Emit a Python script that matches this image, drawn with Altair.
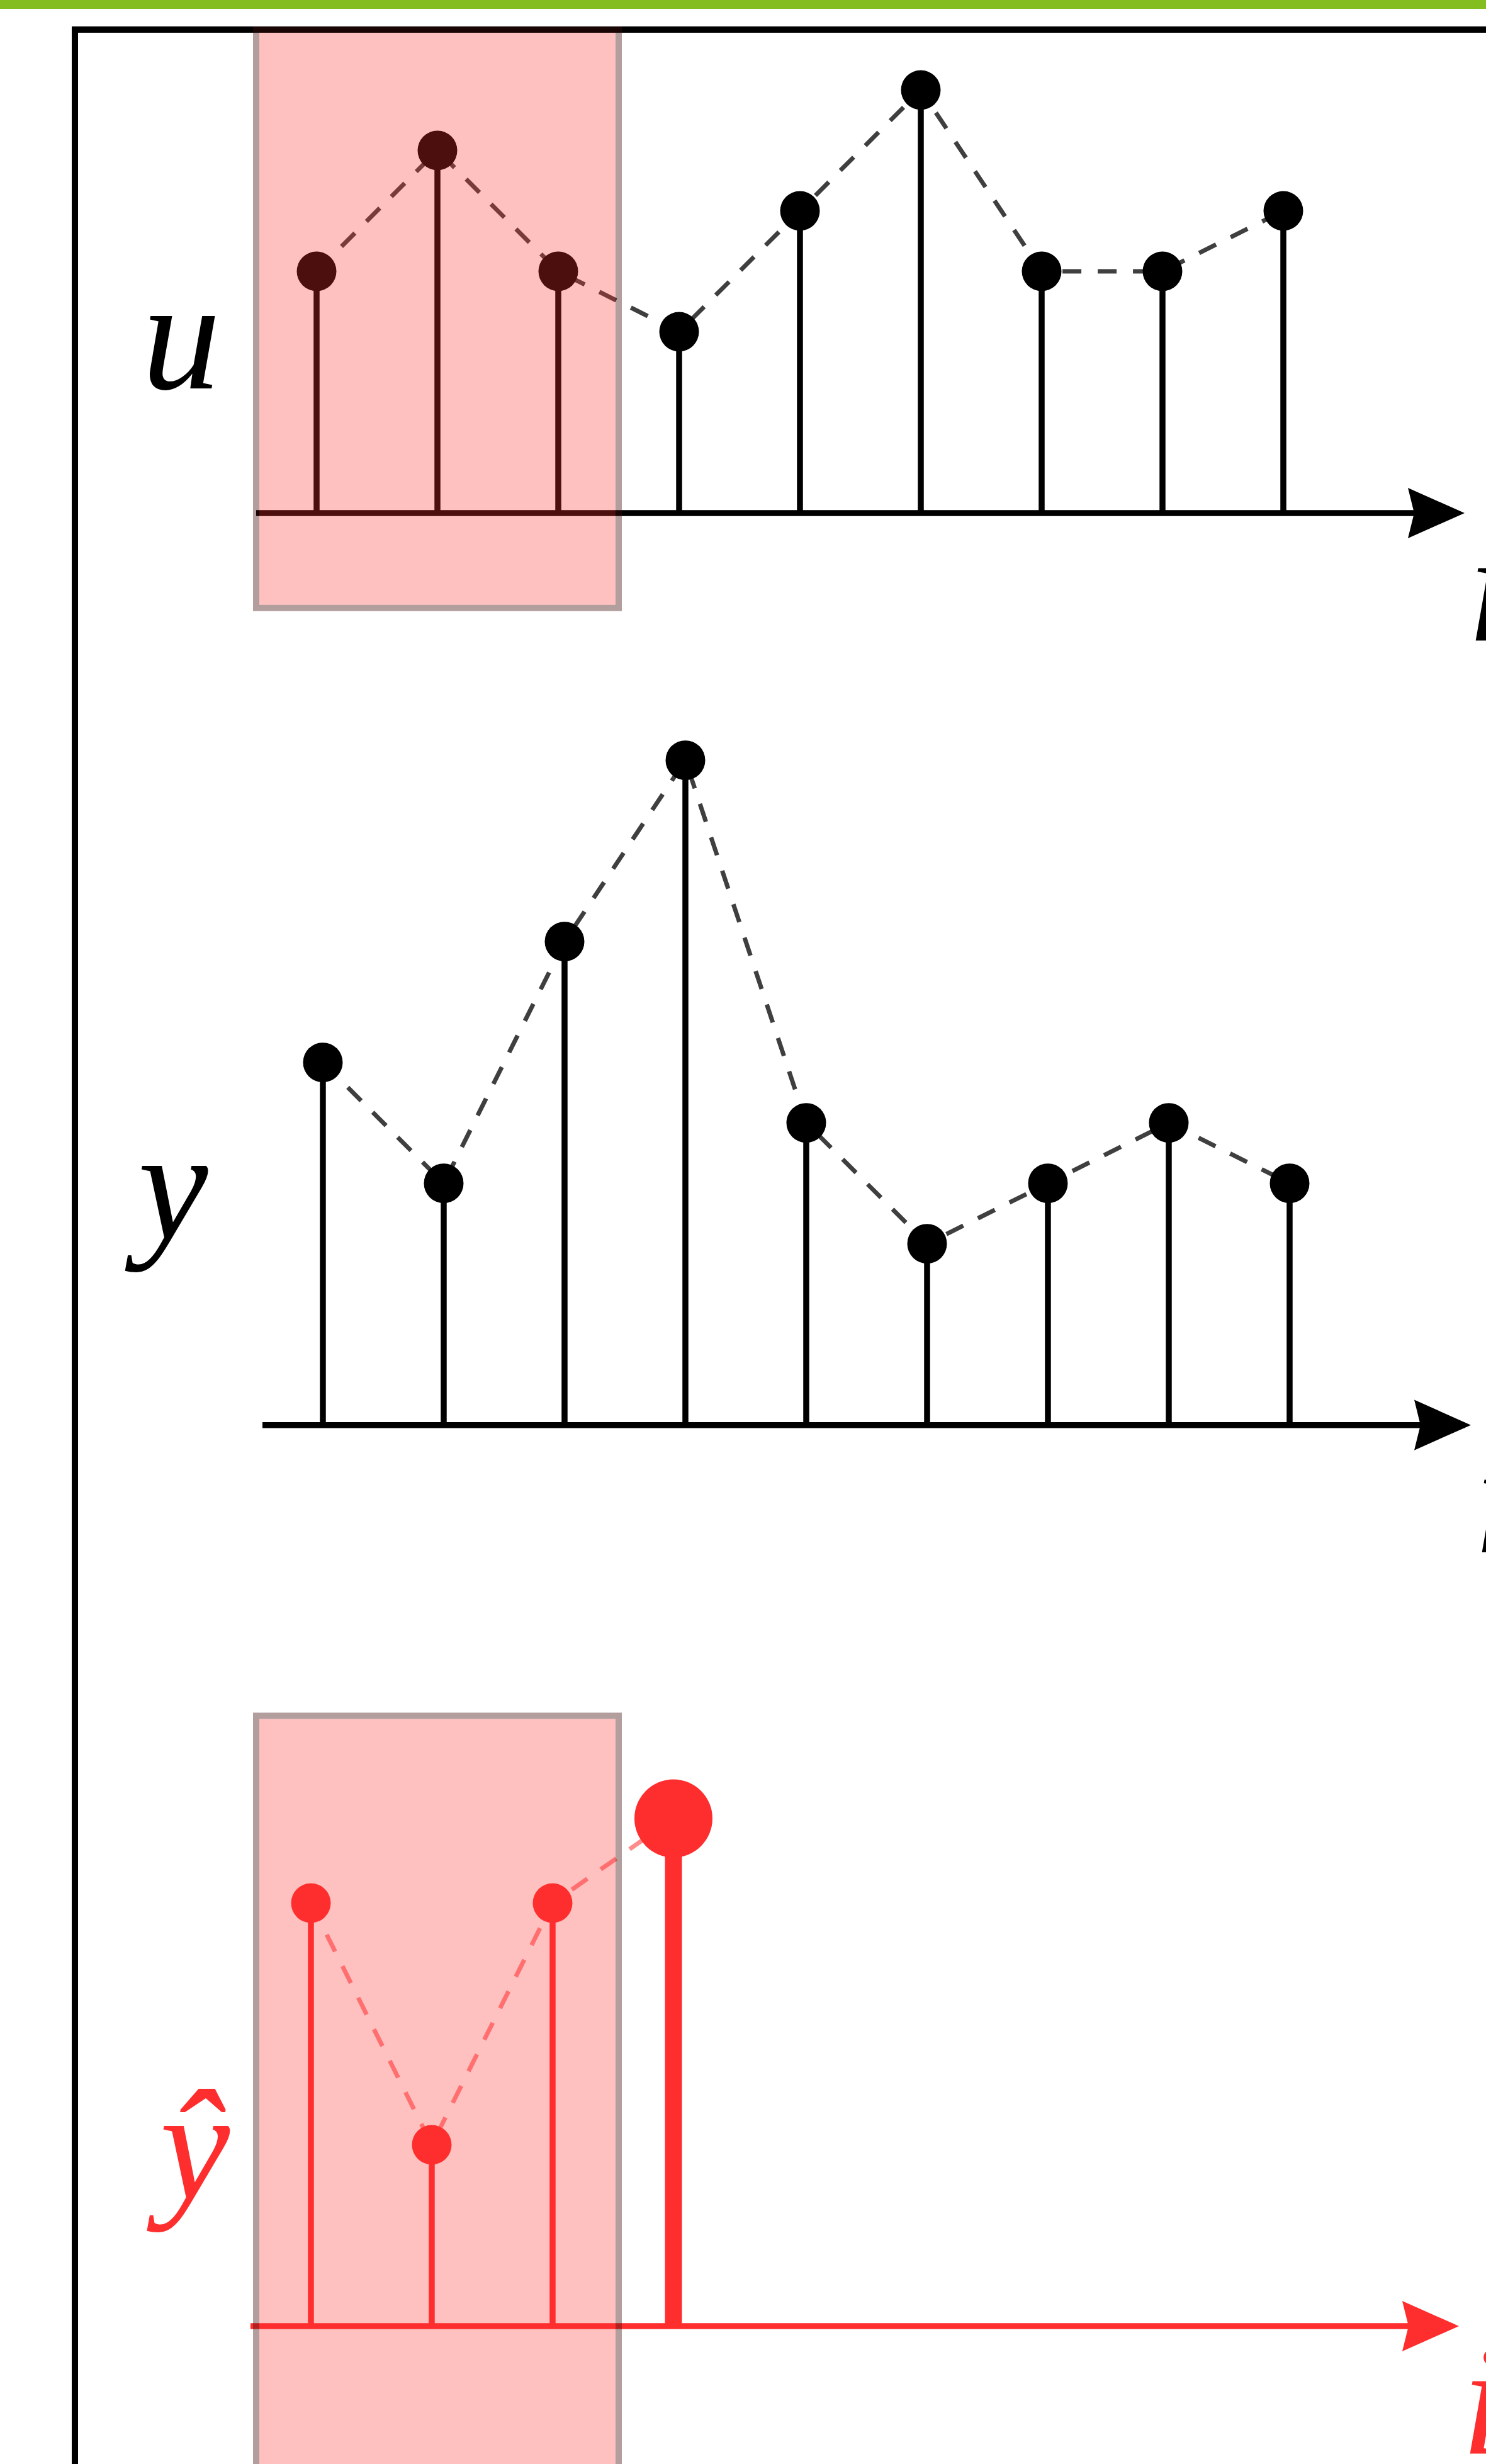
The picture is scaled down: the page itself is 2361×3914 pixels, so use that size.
import altair as alt
import pandas as pd

# ---- sequences -------------------------------------------------------------
steps = [1, 2, 3, 4, 5, 6, 7, 8, 9]
u_vals = [4, 6, 4, 3, 5, 7, 4, 4, 5]          # input sequence u
y_vals = [6, 4, 8, 11, 5, 3, 4, 5, 4]         # output sequence y
yhat_steps = [1, 2, 3]
yhat_vals = [7, 3, 7]                          # estimates inside the window
pred_step = 4
pred_val = 8.4                                 # next predicted value

# sliding window covering the first three samples
window_lo, window_hi = 0.5, 3.5
axis_lo, axis_hi = 0.5, 10.5

# ---- layout ----------------------------------------------------------------
W, H = 2361, 3914
PX_X = 192.0      # pixels per step
PX_Y = 96.0       # pixels per value unit
X0 = 503.0        # pixel column of step 1
Y0 = 815.0        # pixel row of the first baseline

x_dom = [1 - X0 / PX_X, 1 + (W - X0) / PX_X]
y_dom = [(Y0 - H) / PX_Y, Y0 / PX_Y]

# per-panel horizontal nudge (steps) and baseline (value units)
panels = {
    "u": (0.0, 0.0),
    "y": (0.052, -15.09),
    "yhat": (-0.047, -30.0),
}

BLACK = "#000000"
RED = "#ff2e2e"
SERIF = "Liberation Serif"

xs = alt.Scale(domain=x_dom, nice=False, zero=False)
ys = alt.Scale(domain=y_dom, nice=False, zero=False)


def X(f):
    return alt.X(f"{f}:Q", scale=xs, axis=None)


def Y(f):
    return alt.Y(f"{f}:Q", scale=ys, axis=None)


def series(name, idx, vals):
    dx, base = panels[name]
    return pd.DataFrame({
        "panel": name,
        "i": idx,
        "x": [i + dx for i in idx],
        "b": base,
        "v": [v + base for v in vals],
    })


u_df = series("u", steps, u_vals)
y_df = series("y", steps, y_vals)
yh_df = series("yhat", yhat_steps, yhat_vals)
pred_df = series("yhat", [pred_step], [pred_val])
black_df = pd.concat([u_df, y_df], ignore_index=True)
red_line_df = pd.concat([yh_df, pred_df], ignore_index=True)

# ---- background pieces -----------------------------------------------------
green_df = pd.DataFrame({"x": [x_dom[0] - 1], "x2": [x_dom[1] + 1],
                         "y": [y_dom[1] + 1], "y2": [y_dom[1] - 14 / PX_Y]})
green = alt.Chart(green_df).mark_rect(color="#83bd1f", clip=True).encode(
    x=X("x"), x2="x2", y=Y("y"), y2="y2")

frame_df = pd.DataFrame({"x": [-1.0], "x2": [x_dom[1] + 2],
                         "y": [8.0], "y2": [y_dom[0] - 2]})
frame = alt.Chart(frame_df).mark_rect(
    fillOpacity=0, stroke=BLACK, strokeWidth=10, clip=True
).encode(x=X("x"), x2="x2", y=Y("y"), y2="y2")

# ---- axes with arrow heads -------------------------------------------------
ARROW_LEN = 90.0
arrow_path = "M -1 -0.89 L 1 0 L -1 0.89 L -0.78 0 Z"


def axis_layers(name, color):
    dx, base = panels[name]
    line_df = pd.DataFrame({"x": [axis_lo + dx],
                            "x2": [axis_hi + dx - 10 / PX_X],
                            "y": [base]})
    head_df = pd.DataFrame({"x": [axis_hi + dx - (ARROW_LEN / 2) / PX_X],
                            "y": [base]})
    line = alt.Chart(line_df).mark_rule(color=color, strokeWidth=9.5).encode(
        x=X("x"), x2="x2", y=Y("y"))
    head = alt.Chart(head_df).mark_point(
        shape=arrow_path, filled=True, color=color, opacity=1,
        size=ARROW_LEN ** 2, strokeWidth=0
    ).encode(x=X("x"), y=Y("y"))
    return [line, head]


axes = (axis_layers("u", BLACK) + axis_layers("y", BLACK)
        + axis_layers("yhat", RED))

# ---- dashed connecting lines ----------------------------------------------
black_lines = alt.Chart(black_df).mark_line(
    color="#2a2a2a", strokeWidth=7, strokeDash=[30, 26], opacity=0.9
).encode(x=X("x"), y=Y("v"), detail="panel:N", order="i:Q")

red_line = alt.Chart(red_line_df).mark_line(
    color=RED, strokeWidth=7, strokeDash=[30, 26], opacity=0.55
).encode(x=X("x"), y=Y("v"), order="i:Q")

# ---- stems and dots --------------------------------------------------------
black_stems = alt.Chart(black_df).mark_rule(color=BLACK, strokeWidth=9.5).encode(
    x=X("x"), y=Y("b"), y2="v")
black_dots = alt.Chart(black_df).mark_circle(color=BLACK, opacity=1, size=63 ** 2).encode(
    x=X("x"), y=Y("v"))

red_stems = alt.Chart(yh_df).mark_rule(color=RED, strokeWidth=9.5).encode(
    x=X("x"), y=Y("b"), y2="v")
red_dots = alt.Chart(yh_df).mark_circle(color=RED, opacity=1, size=63 ** 2).encode(
    x=X("x"), y=Y("v"))

pred_stem = alt.Chart(pred_df).mark_rule(color=RED, strokeWidth=27).encode(
    x=X("x"), y=Y("b"), y2="v")
pred_dot = alt.Chart(pred_df).mark_circle(color=RED, opacity=1, size=124 ** 2).encode(
    x=X("x"), y=Y("v"))

# ---- labels ----------------------------------------------------------------
name_labels = pd.DataFrame({
    "t": ["u", "y", "ŷ"],
    "x": [-0.12, -0.24 + panels["y"][0], 0.04 + panels["yhat"][0]],
    "y": [2.06, 3.09 + panels["y"][1], 2.11 + panels["yhat"][1]],
    "c": [BLACK, BLACK, RED],
})
names = alt.Chart(name_labels).mark_text(
    font=SERIF, fontStyle="italic", fontSize=250, align="center",
    baseline="alphabetic"
).encode(x=X("x"), y=Y("y"), text="t:N", color=alt.Color("c:N", scale=None))

i_labels = pd.DataFrame({
    "t": ["i", "i", "i"],
    "x": [10.52 + panels[p][0] for p in ["u", "y", "yhat"]],
    "y": [-2.1 + panels[p][1] for p in ["u", "y", "yhat"]],
    "c": [BLACK, BLACK, RED],
})
i_text = alt.Chart(i_labels).mark_text(
    font=SERIF, fontStyle="italic", fontSize=250, align="left",
    baseline="alphabetic", clip=True
).encode(x=X("x"), y=Y("y"), text="t:N", color=alt.Color("c:N", scale=None))

# ---- shaded windows --------------------------------------------------------
SW = 10.0
win_df = pd.DataFrame({
    "x": [window_lo, window_lo],
    "x2": [window_hi, window_hi],
    "y": [8.0, 10.1 + panels["yhat"][1]],
    "y2": [-1.57, y_dom[0] - 2],
})
fill_df = win_df.assign(
    x=win_df["x"] + (SW / 2) / PX_X,
    x2=win_df["x2"] - (SW / 2) / PX_X,
    y=win_df["y"] - (SW / 2) / PX_Y,
    y2=win_df["y2"] + (SW / 2) / PX_Y,
)
win_fill = alt.Chart(fill_df).mark_rect(color="#ff3030", opacity=0.3, clip=True).encode(
    x=X("x"), x2="x2", y=Y("y"), y2="y2")
win_edge = alt.Chart(win_df).mark_rect(
    fillOpacity=0, stroke="#410c0c", strokeOpacity=0.4, strokeWidth=SW, clip=True
).encode(x=X("x"), x2="x2", y=Y("y"), y2="y2")

chart = alt.layer(
    green, frame, *axes, black_lines, red_line,
    black_stems, black_dots, red_stems, red_dots, pred_stem, pred_dot,
    names, i_text, win_fill, win_edge,
).properties(
    width=W, height=H, padding=0, background="white",
    autosize=alt.AutoSizeParams(type="none"),
).configure_view(stroke=None)

chart.save("out.html", embed_options={"renderer": "svg", "actions": False})
